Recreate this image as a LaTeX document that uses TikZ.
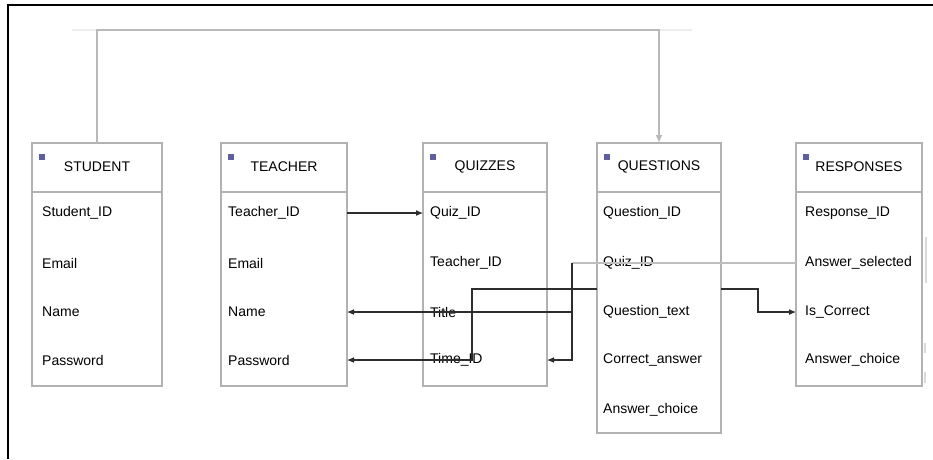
\documentclass[tikz,border=0pt]{standalone}
\usepackage{fontspec}
\setmainfont{Liberation Sans}
\usetikzlibrary{arrows.meta,positioning}

\tikzset{
  tbl/.style={draw=gray!60, line width=1.4pt, anchor=north west, inner sep=0pt, outer sep=0pt, minimum height=243pt},
  sep/.style={draw=gray!60, line width=2.2pt},
  title/.style={font=\fontsize{14}{16}\selectfont, inner sep=0pt},
  field/.style={font=\fontsize{14}{16}\selectfont, anchor=west, inner sep=0pt},
  icon/.style={fill={rgb,255:red,95;green,95;blue,160}, anchor=north west, minimum size=6pt, inner sep=0pt},
  link/.style={draw=gray!35!black, line width=1.1pt},
  fk/.style={link, -{Latex[length=7pt,width=6pt]}},
  wide/.style={draw=gray!50, line width=2pt},
  faint/.style={draw=gray!30, line width=2pt}
}

\begin{document}
\begin{tikzpicture}[x=1pt, y=-1pt]
\useasboundingbox (0,0) rectangle (933,459);
% outer frame
\draw[line width=1.6pt] (8,459) -- (8,5) -- (933,5);

% tables
\node[tbl, minimum width=130pt] (student) at (32,143) {};
\node[tbl, minimum width=126pt] (teacher) at (221,143) {};
\node[tbl, minimum width=124pt] (quizzes) at (423,143) {};
\node[tbl, minimum width=124pt, minimum height=290pt] (questions) at (597,143) {};
\node[tbl, minimum width=126pt] (responses) at (796,143) {};

\foreach \t in {student,teacher,quizzes,questions,responses}{
  \draw[sep] (\t.west |- 0,192) -- (\t.east |- 0,192);
  \node[icon] at ([xshift=7pt,yshift=-11pt]\t.north west) {};
}

% titles
\node[title] (studentT) at (student.north |- 0,167) {STUDENT};
\node[title] (teacherT) at (teacher.north |- 0,167) {TEACHER};
\node[title] (quizzesT) at (quizzes.north |- 0,167) {QUIZZES};
\node[title] (questionsT) at (questions.north |- 0,167) {QUESTIONS};
\node[title] (responsesT) at (responses.north |- 0,167) {RESPONSES};

% fields
\node[field] (s1) at (42,213) {Student\_ID};
\node[field] (s2) at (42,263) {Email};
\node[field] (s3) at (42,312) {Name};
\node[field] (s4) at (42,360) {Password};

\node[field] (t1) at (228,213) {Teacher\_ID};
\node[field] (t2) at (228,263) {Email};
\node[field] (t3) at (228,312) {Name};
\node[field] (t4) at (228,360) {Password};

\node[field] (z1) at (430,213) {Quiz\_ID};
\node[field] (z2) at (430,263) {Teacher\_ID};
\node[field] (z3) at (430,312) {Title};
\node[field] (z4) at (430,360) {Time\_ID};

\node[field] (q1) at (603,213) {Question\_ID};
\node[field] (q2) at (603,263) {Quiz\_ID};
\node[field] (q3) at (603,312) {Question\_text};
\node[field] (q4) at (603,360) {Correct\_answer};
\node[field] (q5) at (603,410) {Answer\_choice};

\node[field] (r1) at (805,213) {Response\_ID};
\node[field] (r2) at (805,263) {Answer\_selected};
\node[field] (r3) at (805,312) {Is\_Correct};
\node[field] (r4) at (805,360) {Answer\_choice};

% connectors
\draw[faint, draw=gray!15] (72,30) -- (692,30);
\draw[link, draw=gray!55, line width=1.5pt, -{Latex[length=8pt,width=7pt]}] (student.north) -- (student.north |- 0,30) -| (questions.north);

\draw[fk] (teacher.east |- t1) -- (quizzes.west |- z1);

\coordinate (jq) at (572,263);
\draw[wide] (responses.west |- r2) -- (jq);
\draw[fk] (jq) |- (quizzes.east |- z4);
\draw[fk] (jq |- z3) -- (teacher.east |- t3);

\coordinate (jb) at (472,289);
\draw[fk] (questions.west |- jb) -- (jb) |- (teacher.east |- t4);

\coordinate (jr) at (758,289);
\draw[fk] (questions.east |- jr) -- (jr) |- (responses.west |- r3);

% scroll marks beside RESPONSES
\draw[faint] (926,237) -- (926,283);
\draw[faint] (925,343) -- (925,353);
\draw[faint] (925,372) -- (925,383);
\end{tikzpicture}
\end{document}
